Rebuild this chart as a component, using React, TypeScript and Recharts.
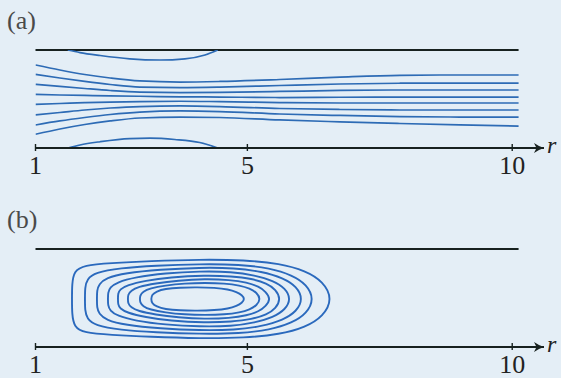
import React from 'react';
import { ComposedChart, Line, XAxis, YAxis, ReferenceLine, ReferenceDot } from 'recharts';

// ---- shared axis ----
const rTicks = [1, 5, 10];
const rDomain: [number, number] = [1, 10.6];
const wallEnd = 10.12;

// ---- panel (a): streamlines ----
const rStream = [1, 1.46, 1.93, 2.41, 2.97, 3.73, 4.48, 5.61, 6.75, 7.88, 9.01, 10.12];
const stream1 = [0.847, 0.796, 0.75, 0.714, 0.684, 0.673, 0.679, 0.699, 0.724, 0.742, 0.745, 0.745];
const stream2 = [0.752, 0.714, 0.679, 0.648, 0.622, 0.617, 0.622, 0.638, 0.653, 0.661, 0.663, 0.663];
const stream3 = [0.65, 0.628, 0.607, 0.587, 0.571, 0.566, 0.568, 0.577, 0.587, 0.592, 0.592, 0.592];
const stream4 = [0.548, 0.541, 0.536, 0.531, 0.528, 0.522, 0.52, 0.515, 0.518, 0.52, 0.52, 0.52];
const stream5 = [0.446, 0.454, 0.462, 0.469, 0.474, 0.477, 0.473, 0.464, 0.459, 0.459, 0.459, 0.459];
const stream6 = [0.337, 0.362, 0.388, 0.408, 0.423, 0.429, 0.423, 0.403, 0.393, 0.388, 0.388, 0.388];
const stream7 = [0.235, 0.276, 0.311, 0.342, 0.367, 0.378, 0.372, 0.347, 0.332, 0.321, 0.316, 0.316];
const stream8 = [0.14, 0.194, 0.24, 0.276, 0.306, 0.316, 0.311, 0.286, 0.267, 0.25, 0.235, 0.224];

const sepTopR = [1.61, 1.84, 2.22, 2.78, 3.35, 3.82, 4.2, 4.44];
const sepTopZ = [1, 0.974, 0.944, 0.91, 0.898, 0.91, 0.949, 1];
const sepBotR = [1.61, 1.84, 2.22, 2.78, 3.16, 3.63, 4.1, 4.44];
const sepBotZ = [0, 0.031, 0.064, 0.096, 0.1, 0.087, 0.056, 0];

// ---- panel (b): closed recirculation contours ----
const loop1R = [1.689, 1.689, 1.726, 1.915, 2.406, 3.16, 4.104, 4.953, 5.613, 6.1, 6.43, 6.61, 6.43, 6.1, 5.613, 4.953, 4.104, 3.16, 2.406, 1.915, 1.726, 1.689];
const loop1Z = [0.49, 0.64, 0.775, 0.835, 0.856, 0.877, 0.893, 0.887, 0.852, 0.777, 0.668, 0.49, 0.312, 0.203, 0.128, 0.093, 0.087, 0.103, 0.124, 0.145, 0.205, 0.34];
const loop2R = [1.934, 1.934, 1.972, 2.123, 2.594, 3.255, 4.104, 4.858, 5.425, 5.85, 6.12, 6.26, 6.12, 5.85, 5.425, 4.858, 4.104, 3.255, 2.594, 2.123, 1.972, 1.934];
const loop2Z = [0.49, 0.607, 0.692, 0.76, 0.806, 0.831, 0.847, 0.842, 0.806, 0.733, 0.638, 0.49, 0.342, 0.247, 0.174, 0.138, 0.133, 0.149, 0.174, 0.22, 0.288, 0.373];
const loop3R = [2.16, 2.16, 2.198, 2.33, 2.689, 3.349, 4.104, 4.764, 5.274, 5.68, 5.93, 6.05, 5.93, 5.68, 5.274, 4.764, 4.104, 3.349, 2.689, 2.33, 2.198, 2.16];
const loop3Z = [0.49, 0.576, 0.641, 0.704, 0.755, 0.791, 0.811, 0.806, 0.77, 0.703, 0.617, 0.49, 0.363, 0.277, 0.21, 0.174, 0.169, 0.189, 0.225, 0.276, 0.339, 0.404];
const loop4R = [2.368, 2.368, 2.406, 2.538, 2.877, 3.443, 4.104, 4.708, 5.142, 5.49, 5.72, 5.82, 5.72, 5.49, 5.142, 4.708, 4.104, 3.443, 2.877, 2.538, 2.406, 2.368];
const loop4Z = [0.49, 0.555, 0.608, 0.661, 0.712, 0.753, 0.773, 0.768, 0.732, 0.676, 0.597, 0.49, 0.383, 0.304, 0.248, 0.212, 0.207, 0.227, 0.268, 0.319, 0.372, 0.425];
const loop5R = [2.557, 2.557, 2.594, 2.726, 3.066, 3.538, 4.198, 4.708, 5.085, 5.368, 5.538, 5.63, 5.538, 5.368, 5.085, 4.708, 4.198, 3.538, 3.066, 2.726, 2.594, 2.557];
const loop5Z = [0.49, 0.545, 0.588, 0.63, 0.676, 0.712, 0.732, 0.722, 0.697, 0.65, 0.587, 0.49, 0.393, 0.33, 0.283, 0.258, 0.248, 0.268, 0.304, 0.35, 0.392, 0.435];
const loop6R = [2.745, 2.745, 2.802, 2.934, 3.255, 3.689, 4.198, 4.67, 4.991, 5.217, 5.349, 5.44, 5.349, 5.217, 4.991, 4.67, 4.198, 3.689, 3.255, 2.934, 2.802, 2.745];
const loop6Z = [0.49, 0.534, 0.576, 0.613, 0.649, 0.679, 0.695, 0.685, 0.659, 0.617, 0.564, 0.49, 0.416, 0.363, 0.321, 0.295, 0.285, 0.301, 0.331, 0.367, 0.404, 0.446];
const loop7R = [2.972, 2.972, 3.028, 3.16, 3.443, 3.821, 4.198, 4.575, 4.858, 5.047, 5.179, 5.25, 5.179, 5.047, 4.858, 4.575, 4.198, 3.821, 3.443, 3.16, 3.028, 2.972];
const loop7Z = [0.49, 0.523, 0.565, 0.598, 0.628, 0.649, 0.654, 0.649, 0.628, 0.597, 0.555, 0.49, 0.425, 0.383, 0.352, 0.331, 0.326, 0.331, 0.352, 0.382, 0.415, 0.457];
const loop8R = [3.18, 3.2, 3.28, 3.443, 3.726, 4.047, 4.387, 4.64, 4.8, 4.9, 4.95, 4.9, 4.8, 4.64, 4.387, 4.047, 3.726, 3.443, 3.28, 3.2];
const loop8Z = [0.49, 0.535, 0.567, 0.594, 0.607, 0.61, 0.605, 0.589, 0.561, 0.53, 0.49, 0.45, 0.419, 0.391, 0.375, 0.37, 0.373, 0.386, 0.413, 0.445];

const zip = (rs: number[], zs: number[]) => rs.map((r, i) => ({ r, z: zs[i] }));

const streams = [stream1, stream2, stream3, stream4, stream5, stream6, stream7, stream8].map((s) => zip(rStream, s));
const separatrices = [zip(sepTopR, sepTopZ), zip(sepBotR, sepBotZ)];
const loops = [
  zip(loop1R, loop1Z), zip(loop2R, loop2Z), zip(loop3R, loop3Z), zip(loop4R, loop4Z),
  zip(loop5R, loop5Z), zip(loop6R, loop6Z), zip(loop7R, loop7Z), zip(loop8R, loop8Z),
];

const BG = '#e4eef6';
const WALL = '#17211f';
const BLUE = '#2d6bb5';
const SERIF = "'Liberation Serif', 'DejaVu Serif', serif";

const AxisTick = (props: any) => {
  const { x, y, payload } = props;
  return (
    <g>
      <line x1={x} x2={x} y1={y - 4} y2={y + 3} stroke={WALL} strokeWidth={1.4} />
      <text x={x} y={y + 26} textAnchor="middle" fontFamily={SERIF} fontSize={26} fill="#222">
        {payload.value}
      </text>
    </g>
  );
};

const ArrowHead = (props: any) => {
  const { cx, cy } = props;
  const d = `M${cx} ${cy} Q${cx - 5} ${cy - 1.5} ${cx - 10} ${cy - 5} L${cx - 7.5} ${cy} L${cx - 10} ${cy + 5} Q${cx - 5} ${cy + 1.5} ${cx} ${cy} Z`;
  return (
    <g>
      <path d={d} fill={WALL} />
      <text x={cx + 3} y={cy + 5} fontFamily={SERIF} fontStyle="italic" fontSize={24} fill="#222">
        r
      </text>
    </g>
  );
};

const Panel = ({ height, bottom, children }: { height: number; bottom: number; children: React.ReactNode }) => (
  <ComposedChart width={561} height={height} margin={{ top: 50, right: 17, left: 35.5, bottom }}>
    <XAxis
      type="number"
      dataKey="r"
      domain={rDomain}
      ticks={rTicks}
      interval={0}
      allowDataOverflow
      height={30}
      tickSize={0}
      tickMargin={0}
      tickLine={false}
      axisLine={{ stroke: WALL, strokeWidth: 2 }}
      tick={<AxisTick />}
    />
    <YAxis type="number" dataKey="z" domain={[0, 1]} hide allowDataOverflow />
    <ReferenceLine
      segment={[{ x: 1, y: 1 }, { x: wallEnd, y: 1 }]}
      stroke={WALL}
      strokeWidth={2}
      ifOverflow="visible"
    />
    <ReferenceDot x={rDomain[1]} y={0} r={0} ifOverflow="visible" shape={<ArrowHead />} />
    {children}
  </ComposedChart>
);

export default function App() {
  return (
    <div style={{ position: 'absolute', left: 0, top: 0, width: 561, height: 378, background: BG, overflow: 'hidden' }}>
      <div style={{ position: 'absolute', left: 7, top: 7.5, fontFamily: SERIF, fontSize: 26, lineHeight: '26px', color: '#4a4a4a' }}>(a)</div>
      <div style={{ position: 'absolute', left: 7, top: 206.5, fontFamily: SERIF, fontSize: 26, lineHeight: '26px', color: '#4a4a4a' }}>(b)</div>
      <div style={{ position: 'absolute', left: 0, top: 0 }}>
        <Panel height={189} bottom={11}>
          {streams.map((d, i) => (
            <Line key={`s${i}`} data={d} dataKey="z" type="monotone" stroke={BLUE} strokeWidth={1.7} dot={false} activeDot={false} isAnimationActive={false} />
          ))}
          {separatrices.map((d, i) => (
            <Line key={`p${i}`} data={d} dataKey="z" type="monotone" stroke={BLUE} strokeWidth={1.7} dot={false} activeDot={false} isAnimationActive={false} />
          ))}
        </Panel>
      </div>
      <div style={{ position: 'absolute', left: 0, top: 199 }}>
        <Panel height={179} bottom={1}>
          {loops.map((d, i) => (
            <Line key={`l${i}`} data={d} dataKey="z" type="basisClosed" stroke="#2a69bd" strokeWidth={1.9} dot={false} activeDot={false} isAnimationActive={false} />
          ))}
        </Panel>
      </div>
    </div>
  );
}
